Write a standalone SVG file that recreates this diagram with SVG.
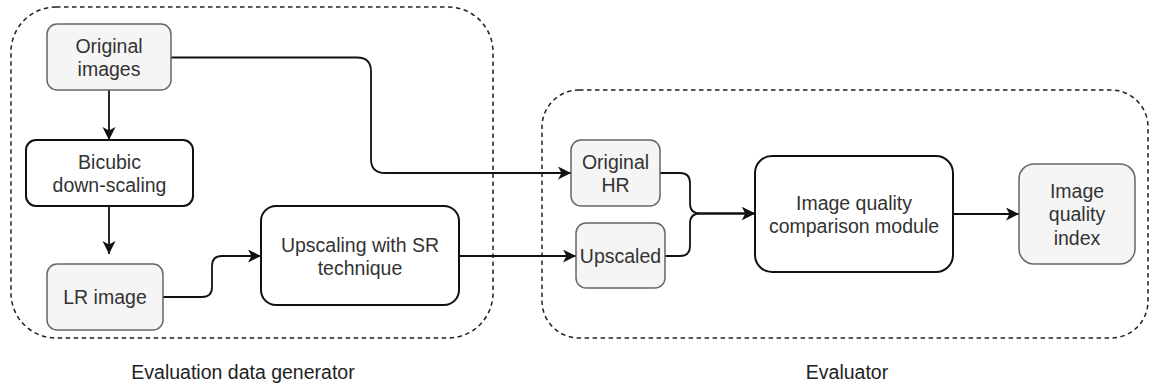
<svg xmlns="http://www.w3.org/2000/svg" width="1151" height="387" viewBox="0 0 1151 387">
  <style>
    text { font-family: "Liberation Sans", Arial, Helvetica, sans-serif; font-size: 19.5px; fill: #333; text-anchor: middle; }
    .group { fill: none; stroke: #222; stroke-width: 1.5; stroke-dasharray: 4.5 3.5; }
    .data { fill: #f5f5f5; stroke: #666; stroke-width: 1.5; }
    .proc { fill: #fff; stroke: #111; stroke-width: 2; }
    .edge { fill: none; stroke: #111; stroke-width: 1.8; marker-end: url(#arrow); }
    .caption { fill: #222; }
  </style>
  <defs>
    <marker id="arrow" markerUnits="userSpaceOnUse" markerWidth="14" markerHeight="14" refX="13" refY="6.5" orient="auto">
      <path d="M0,0 L13,6.5 L0,13 L3.5,6.5 Z" fill="#111"/>
    </marker>
  </defs>

  <!-- container groups -->
  <g id="generator">
    <rect class="group" x="11" y="7" width="482" height="331" rx="45" ry="45"/>
    <text class="caption" x="243" y="379">Evaluation data generator</text>
  </g>
  <g id="evaluator">
    <rect class="group" x="542" y="90" width="606" height="248" rx="37" ry="37"/>
    <text class="caption" x="847" y="379">Evaluator</text>
  </g>

  <!-- connectors -->
  <g id="connectors">
    <path class="edge" d="M109,90 V140"/>
    <path class="edge" d="M109,206 V254"/>
    <path class="edge" d="M171,57.5 H357 Q371,57.5 371,71.5 V159 Q371,173 385,173 H571"/>
    <path class="edge" d="M163,297 H202 Q212,297 212,287 V266 Q212,256 222,256 H261"/>
    <path class="edge" d="M459,256 H576"/>
    <path class="edge" d="M660,173 H680 Q690,173 690,183 V203.5 Q690,213.5 700,213.5 H755"/>
    <path class="edge" d="M665,256 H680 Q690,256 690,246 V223.5 Q690,213.5 700,213.5 H755"/>
    <path class="edge" d="M953,214 H1019"/>
  </g>

  <!-- nodes -->
  <g id="original-images">
    <rect class="data" x="47" y="24" width="124" height="66" rx="10"/>
    <text x="109" y="53">Original</text>
    <text x="109" y="76">images</text>
  </g>
  <g id="bicubic">
    <rect class="proc" x="26" y="140" width="167" height="66" rx="10"/>
    <text x="109.5" y="168.5">Bicubic</text>
    <text x="109.5" y="191.5">down-scaling</text>
  </g>
  <g id="lr-image">
    <rect class="data" x="47" y="264" width="116" height="66" rx="10"/>
    <text x="105" y="304">LR image</text>
  </g>
  <g id="upscaling">
    <rect class="proc" x="261" y="206" width="198" height="99" rx="15"/>
    <text x="360" y="251.5">Upscaling with SR</text>
    <text x="360" y="274.5">technique</text>
  </g>
  <g id="original-hr">
    <rect class="data" x="571" y="140" width="89" height="66" rx="10"/>
    <text x="615.5" y="168.5">Original</text>
    <text x="615.5" y="191.5">HR</text>
  </g>
  <g id="upscaled">
    <rect class="data" x="576" y="223" width="89" height="65" rx="10"/>
    <text x="620.5" y="262.5">Upscaled</text>
  </g>
  <g id="comparison">
    <rect class="proc" x="755" y="156" width="198" height="116" rx="17"/>
    <text x="854" y="210">Image quality</text>
    <text x="854" y="233">comparison module</text>
  </g>
  <g id="quality-index">
    <rect class="data" x="1019" y="164" width="116" height="100" rx="15"/>
    <text x="1077" y="197.5">Image</text>
    <text x="1077" y="221">quality</text>
    <text x="1077" y="244.5">index</text>
  </g>
</svg>
